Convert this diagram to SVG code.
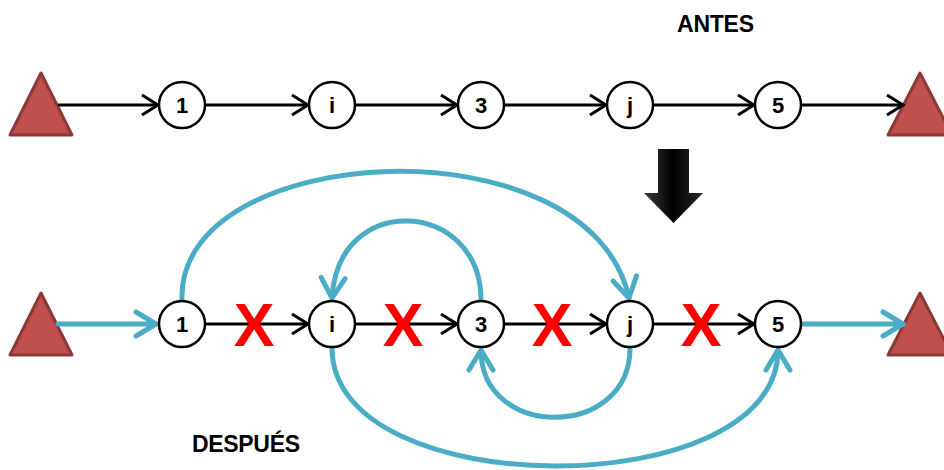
<svg xmlns="http://www.w3.org/2000/svg" width="944" height="470" viewBox="0 0 944 470">
<style>
.node circle{fill:#fff;stroke:#000;stroke-width:2.5}
.node text{font-family:"Liberation Sans",Arial,sans-serif;font-weight:bold;font-size:22px;text-anchor:middle;fill:#000}
.tri{fill:#c0504d;stroke:#8c3836;stroke-width:3;stroke-linejoin:round}
.blk{fill:none;stroke:#000;stroke-width:3;marker-end:url(#ab)}
.blu{fill:none;stroke:#4bacc6;stroke-width:5;stroke-linecap:round;marker-end:url(#au)}
.x{font-family:"Liberation Sans",Arial,sans-serif;font-weight:bold;font-size:61px;fill:#ff0000;text-anchor:middle}
.title{font-family:"Liberation Sans",Arial,sans-serif;font-weight:bold;font-size:23px;fill:#000}
</style>
<defs>
<marker id="ab" markerUnits="userSpaceOnUse" markerWidth="24" markerHeight="24" viewBox="-20 -12 24 24" refX="0" refY="0" orient="auto">
<path d="M-16,-10 L0,0 L-16,10" fill="none" stroke="#000" stroke-width="3" stroke-linejoin="miter"/>
</marker>
<marker id="au" markerUnits="userSpaceOnUse" markerWidth="30" markerHeight="30" viewBox="-25 -15 30 30" refX="0" refY="0" orient="auto">
<path d="M-20,-12 L0,0 L-20,12" fill="none" stroke="#4bacc6" stroke-width="5" stroke-linecap="round" stroke-linejoin="round"/>
</marker>
<linearGradient id="bg" x1="0" y1="0" x2="1" y2="0">
<stop offset="0" stop-color="#3a3a3a"/>
<stop offset="0.5" stop-color="#000"/>
<stop offset="1" stop-color="#2a2a2a"/>
</linearGradient>
</defs>

<text class="title" x="677" y="32" textLength="77">ANTES</text>
<text class="title" x="192" y="452" textLength="108">DESPUÉS</text>

<g id="big-arrow">
<polygon points="658,149 689,149 689,193 703,193 673.5,223 644,193 658,193" fill="url(#bg)"/>
</g>

<g id="tri-top-left"><polygon class="tri" points="41,73 72,135 10,135"/></g>
<g id="tri-top-right"><polygon class="tri" points="920,73 952,135 888,135"/></g>
<g id="tri-bot-left"><polygon class="tri" points="41,293 72,355 10,355"/></g>
<g id="tri-bot-right"><polygon class="tri" points="920,293 952,355 888,355"/></g>

<g id="connectors">
<path class="blk" d="M58,105 H158"/>
<path class="blk" d="M206,105 H308"/>
<path class="blk" d="M356,105 H457"/>
<path class="blk" d="M505,105 H606"/>
<path class="blk" d="M654,105 H754"/>
<path class="blk" d="M802,105 H903"/>

<path class="blu" d="M58,324 H156"/>
<path class="blu" d="M802,324 H903"/>
<path class="blk" d="M206,324 H308"/>
<path class="blk" d="M356,324 H457"/>
<path class="blk" d="M505,324 H606"/>
<path class="blk" d="M654,324 H754"/>

<path class="blu" d="M182,300 C176,140 590,118 629,298"/>
<path class="blu" d="M481,300 C481,200 338,190 332,298"/>
<path class="blu" d="M630,348 C630,440 481,440 481,350"/>
<path class="blu" d="M332,348 C332,505 778,505 778,350"/>
</g>

<g id="x-marks">
<text class="x" x="254" y="346">X</text>
<text class="x" x="403" y="346">X</text>
<text class="x" x="552" y="346">X</text>
<text class="x" x="701" y="346">X</text>
</g>

<g id="n1-top" class="node"><circle cx="182" cy="105" r="23"/><text x="182" y="113">1</text></g>
<g id="ni-top" class="node"><circle cx="332" cy="105" r="23"/><text x="332" y="113">i</text></g>
<g id="n3-top" class="node"><circle cx="481" cy="105" r="23"/><text x="481" y="113">3</text></g>
<g id="nj-top" class="node"><circle cx="630" cy="105" r="23"/><text x="630" y="113">j</text></g>
<g id="n5-top" class="node"><circle cx="778" cy="105" r="23"/><text x="778" y="113">5</text></g>

<g id="n1-bot" class="node"><circle cx="182" cy="324" r="23"/><text x="182" y="332">1</text></g>
<g id="ni-bot" class="node"><circle cx="332" cy="324" r="23"/><text x="332" y="332">i</text></g>
<g id="n3-bot" class="node"><circle cx="481" cy="324" r="23"/><text x="481" y="332">3</text></g>
<g id="nj-bot" class="node"><circle cx="630" cy="324" r="23"/><text x="630" y="332">j</text></g>
<g id="n5-bot" class="node"><circle cx="778" cy="324" r="23"/><text x="778" y="332">5</text></g>
</svg>
